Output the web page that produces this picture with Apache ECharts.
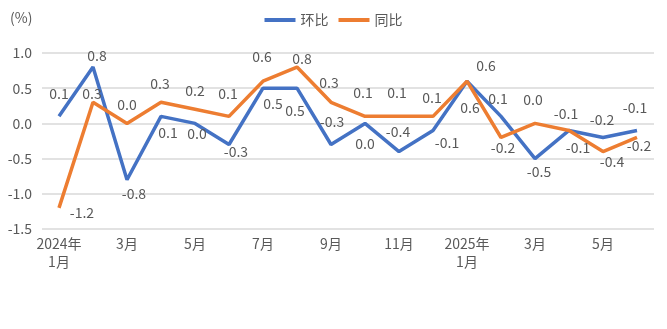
<!DOCTYPE html>
<html>
<head>
<meta charset="utf-8">
<script src="https://cdn.jsdelivr.net/npm/echarts@6/dist/echarts.min.js"></script>
<style>
  html, body { margin: 0; padding: 0; background: #fff; }
  #chart { width: 667px; height: 329px; }
</style>
</head>
<body>
<div id="chart"></div>
<script>
// Monthly price index change, Jan 2024 – Jun 2025
const months = ['2024年\n1月', '2月', '3月', '4月', '5月', '6月', '7月', '8月', '9月', '10月', '11月', '12月',
                '2025年\n1月', '2月', '3月', '4月', '5月', '6月'];
const momValues = [0.1, 0.8, -0.8, 0.1, 0.0, -0.3, 0.5, 0.5, -0.3, 0.0, -0.4, -0.1, 0.6, 0.1, -0.5, -0.1, -0.2, -0.1];
const yoyValues = [-1.2, 0.3, 0.0, 0.3, 0.2, 0.1, 0.6, 0.8, 0.3, 0.1, 0.1, 0.1, 0.6, -0.2, 0.0, -0.1, -0.4, -0.2];
const yTicks = { min: -1.5, max: 1.0, step: 0.5 };

// value-label nudges [dx, dy] in px, measured from each point
const momLabelShift = [[0,-23],[4,-11],[7,14],[7,16],[2,10],[7,7],[10,15],[-2,22],[1,-23],
                       [0,20],[-1,-20],[14,12],[19,-15],[-3,-18],[4,13],[-3,-17],[-1,-18],[-2,-23]];
const yoyLabelShift = [[23,5],[-1,-9],[0,-19],[-1,-19],[0,-19],[-1,-23],[-1,-24],[5,-8],[-2,-20],
                       [-2,-24],[-2,-24],[-1,-19],[3,27],[2,10],[-2,-24],[9,17],[9,10],[2,8]];

const FONT = '"Noto Sans CJK SC", "Noto Sans", sans-serif';
const GREY = '#595959';

function buildData(values, shifts) {
  return values.map((v, i) => ({
    value: v,
    label: { position: 'inside', offset: shifts[i] }
  }));
}

const labelStyle = {
  show: true, color: GREY, fontSize: 14, fontFamily: FONT,
  align: 'center', verticalAlign: 'middle',
  formatter: p => p.value.toFixed(1)
};

const chart = echarts.init(document.getElementById('chart'), null, { renderer: 'canvas' });
chart.setOption({
  animation: false,
  textStyle: { fontFamily: FONT },
  legend: {
    top: 8,
    left: 'center',
    icon: 'rect',
    itemWidth: 31,
    itemHeight: 4,
    itemGap: 10,
    textStyle: { color: GREY, fontSize: 14, fontFamily: FONT },
    data: ['环比', '同比']
  },
  graphic: [{
    type: 'text', left: 10, top: 11,
    style: { text: '(%)', fill: GREY, fontSize: 14, fontFamily: FONT }
  }],
  grid: { left: 42, right: 13, top: 53, bottom: 100 },
  xAxis: {
    type: 'category',
    data: months,
    boundaryGap: true,
    axisLine: { show: false },
    axisTick: { show: false },
    axisLabel: {
      interval: 1, color: GREY, fontSize: 14, fontFamily: FONT,
      margin: 6, lineHeight: 18
    }
  },
  yAxis: {
    type: 'value',
    min: yTicks.min, max: yTicks.max, interval: yTicks.step,
    axisLine: { show: false },
    axisTick: { show: false },
    splitLine: { lineStyle: { color: '#d9d9d9', width: 1.5 } },
    axisLabel: {
      color: GREY, fontSize: 14, fontFamily: FONT, margin: 10,
      formatter: v => v.toFixed(1)
    }
  },
  series: [
    {
      name: '环比', type: 'line',
      data: buildData(momValues, momLabelShift),
      showSymbol: true, symbol: 'circle', symbolSize: 0,
      lineStyle: { color: '#4472C4', width: 3.5 },
      itemStyle: { color: '#4472C4' },
      label: labelStyle,
      z: 2
    },
    {
      name: '同比', type: 'line',
      data: buildData(yoyValues, yoyLabelShift),
      showSymbol: true, symbol: 'circle', symbolSize: 0,
      lineStyle: { color: '#ED7D31', width: 3.5 },
      itemStyle: { color: '#ED7D31' },
      label: labelStyle,
      z: 3
    }
  ]
});
</script>
</body>
</html>
